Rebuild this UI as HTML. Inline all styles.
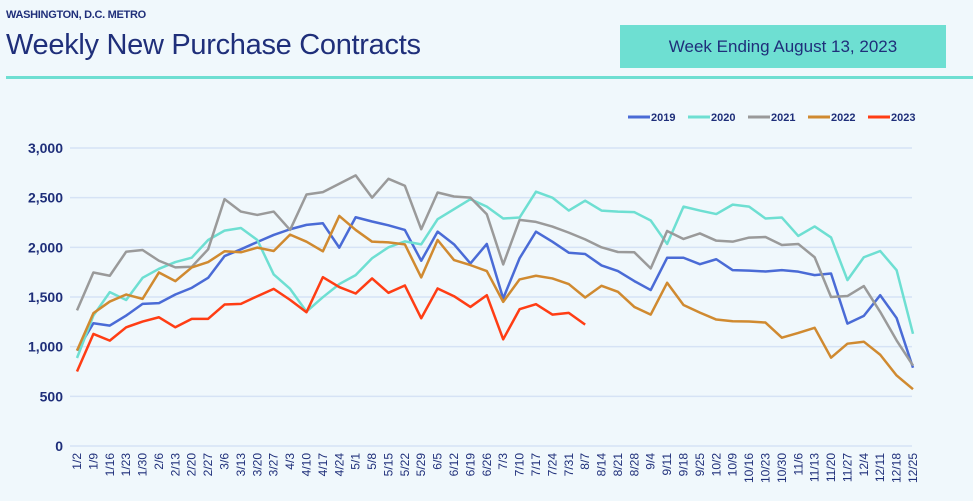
<!DOCTYPE html>
<html><head><meta charset="utf-8"><style>
body{margin:0;background:#f0f8fc;width:973px;height:501px;overflow:hidden;font-family:"Liberation Sans",sans-serif;}
#wrap{position:relative;width:973px;height:501px;}
</style></head><body>
<div id="wrap">
<div style="position:absolute;left:6px;top:9px;font-size:11px;font-weight:bold;color:#1f2f7a;letter-spacing:-0.3px;">WASHINGTON, D.C. METRO</div>
<div style="position:absolute;left:6px;top:29px;font-size:29px;color:#1f2f7a;letter-spacing:-0.3px;">Weekly New Purchase Contracts</div>
<div style="position:absolute;left:620px;top:25px;width:326px;height:43px;background:#6edfd2;color:#1f2f7a;font-size:17px;line-height:43px;text-align:center;">Week Ending August 13, 2023</div>
<div style="position:absolute;left:6px;top:76px;width:967px;height:3px;background:#6edfd2;"></div>
<svg id="chart" width="973" height="501" style="position:absolute;left:0;top:0"></svg>
</div>
<script>
const categories=["1/2","1/9","1/16","1/23","1/30","2/6","2/13","2/20","2/27","3/6","3/13","3/20","3/27","4/3","4/10","4/17","4/24","5/1","5/8","5/15","5/22","5/29","6/5","6/12","6/19","6/26","7/3","7/10","7/17","7/24","7/31","8/7","8/14","8/21","8/28","9/4","9/11","9/18","9/25","10/2","10/9","10/16","10/23","10/30","11/6","11/13","11/20","11/27","12/4","12/11","12/18","12/25"];
const s2019=[960,1236,1212,1313,1431,1438,1525,1592,1693,1912,1980,2054,2125,2182,2226,2242,1997,2303,2260,2222,2175,1865,2158,2030,1838,2034,1485,1890,2158,2057,1946,1933,1818,1761,1660,1570,1895,1895,1830,1880,1770,1765,1757,1770,1755,1720,1737,1232,1310,1518,1288,788];
const s2020=[886,1313,1549,1470,1693,1784,1852,1896,2074,2168,2195,2074,1727,1582,1353,1498,1630,1720,1890,2000,2060,2030,2283,2384,2485,2410,2290,2300,2560,2500,2370,2470,2370,2360,2354,2270,2034,2410,2370,2335,2430,2410,2290,2300,2115,2210,2100,1670,1900,1963,1770,1130];
const s2021=[1365,1747,1714,1956,1973,1865,1798,1804,1980,2485,2360,2326,2360,2175,2532,2556,2640,2724,2500,2690,2620,2182,2552,2512,2500,2333,1828,2276,2256,2209,2148,2080,2000,1953,1950,1788,2165,2084,2140,2067,2057,2098,2104,2024,2034,1900,1500,1510,1610,1350,1063,810];
const s2022=[960,1337,1454,1525,1481,1747,1660,1798,1852,1960,1950,1997,1963,2128,2057,1960,2316,2175,2057,2050,2030,1697,2074,1872,1821,1761,1451,1677,1714,1687,1630,1495,1613,1552,1400,1323,1643,1420,1343,1273,1256,1253,1243,1090,1138,1190,889,1030,1050,919,710,572];
const s2023=[750,1128,1061,1195,1253,1296,1195,1280,1280,1424,1431,1508,1582,1471,1347,1700,1600,1535,1687,1542,1616,1286,1586,1508,1400,1518,1074,1377,1428,1323,1340,1222];
const yTicks=[0,500,1000,1500,2000,2500,3000];
const seriesNames=["2019","2020","2021","2022","2023"];
const seriesColors=["#4a6bd6","#6edfd2","#9a9a9a","#d08a30","#ff3d14"];
const seriesData=[s2019,s2020,s2021,s2022,s2023];

const svg=document.getElementById('chart');
const NS="http://www.w3.org/2000/svg";
const x0=77,x1=913,yb=446,yt=148,yMax=3000;
const xs=i=>x0+(x1-x0)*i/(categories.length-1);
const ys=v=>yb-(yb-yt)*v/yMax;
function mk(t,a){const e=document.createElementNS(NS,t);for(const k in a)e.setAttribute(k,a[k]);svg.appendChild(e);return e;}
yTicks.forEach(v=>{
  const g=mk('line',{x1:70,x2:912,y1:ys(v),y2:ys(v),stroke:'#d6e3f5','stroke-width':1.5});
  
  
  const t=mk('text',{x:63,y:ys(v)+5,'text-anchor':'end','font-size':14,'font-weight':'bold',fill:'#1f2f7a','font-family':'Liberation Sans, sans-serif'});
  t.textContent=v.toLocaleString('en-US');
  
  
});
categories.forEach((c,i)=>{
  const t=mk('text',{x:0,y:0,'text-anchor':'end','font-size':12,fill:'#1f2f7a','font-family':'Liberation Sans, sans-serif',transform:`translate(${xs(i)+4},${yb+7}) rotate(-90)`});
  t.textContent=c;
  
  
});
seriesData.forEach((d,k)=>{
  const p=mk('polyline',{points:d.map((v,i)=>xs(i)+','+ys(v)).join(' '),fill:'none',stroke:seriesColors[k],'stroke-width':2.5,'stroke-linejoin':'round'});
  
  
});
const legX=[628,688,748,808,868];
seriesNames.forEach((n,k)=>{
  const l=mk('line',{x1:legX[k],x2:legX[k]+22,y1:117,y2:117,stroke:seriesColors[k],'stroke-width':3});
  
  
  const t=mk('text',{x:legX[k]+23,y:121,'font-size':11,'font-weight':'bold',fill:'#1f2f7a','font-family':'Liberation Sans, sans-serif'});
  t.textContent=n;
  
  
});
</script>
</body></html>
